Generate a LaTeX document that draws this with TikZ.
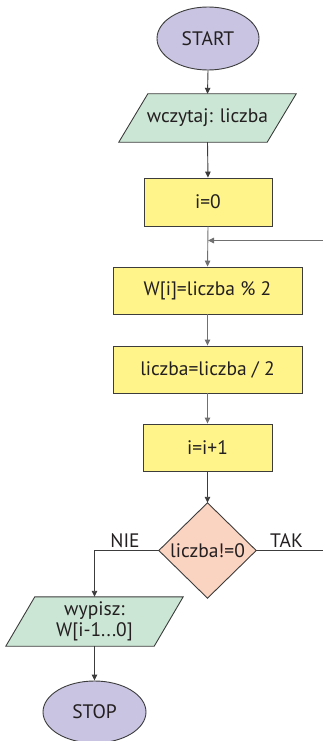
\documentclass[tikz,border=0pt]{standalone}
\usepackage{fontspec}
\setmainfont{PT Sans}
\usetikzlibrary{shapes.geometric,arrows.meta,calc,backgrounds}
\definecolor{lav}{HTML}{C8C4E1}
\definecolor{mint}{HTML}{CCE6D5}
\definecolor{yel}{HTML}{FFF48A}
\definecolor{salm}{HTML}{FBD3C1}
\definecolor{bord}{HTML}{3C3C3C}
\definecolor{txt}{HTML}{231F20}
\definecolor{lgray}{HTML}{707070}
\tikzset{
  every node/.style={text=txt, font=\fontsize{19.5}{22}\selectfont},
  term/.style={ellipse, draw=bord, fill=lav, line width=0.9pt, inner sep=0pt},
  proc/.style={rectangle, draw=bord, fill=yel, line width=0.9pt, inner sep=0pt},
  iobox/.style={rectangle, inner sep=0pt},
  iofill/.style={draw=bord, fill=mint, line width=0.9pt, line join=miter},
  conn/.style={draw=bord, line width=0.9pt, -{Triangle[length=6pt,width=5.5pt]}},
  connl/.style={draw=lgray, line width=0.9pt, -{Triangle[length=6pt,width=5.5pt]}},
  line/.style={draw=bord, line width=0.9pt},
  lbl/.style={font=\fontsize{19.5}{22}\selectfont}
}
\begin{document}
\begin{tikzpicture}[x=1pt,y=-1pt]
\useasboundingbox (0,0) rectangle (323,741);
\node[term, minimum width=102pt, minimum height=63pt] (start) at (208,38.5) {START};
\node[iobox, minimum width=148pt, minimum height=48pt] (read) at (207.5,118) {wczytaj: liczba};
\node[proc, minimum width=128pt, minimum height=48pt] (init) at (208,202) {i=0};
\node[proc, minimum width=189pt, minimum height=47pt] (mod) at (207.5,290.5) {W[i]=liczba \% 2};
\node[proc, minimum width=189pt, minimum height=47pt] (div) at (207.5,369.5) {liczba=liczba / 2};
\node[proc, minimum width=129pt, minimum height=47pt] (inc) at (207.5,447.5) {i=i+1};
\node[rectangle, inner sep=0pt, minimum width=97pt, minimum height=95pt] (cond) at (207.5,550.5) {liczba!=0};
\node[iobox, minimum width=148pt, minimum height=49pt, align=center, font=\fontsize{19.5}{21}\selectfont] (out) at (94.5,621.5) {wypisz:\\W[i-1...0]};
\node[term, minimum width=103pt, minimum height=62pt] (stop) at (94.5,712) {STOP};
\begin{scope}[on background layer]
\path[iofill] ($(read.south west)+(-14.5,0)$) -- ($(read.south east)+(-14.5,0)$) -- ($(read.north east)+(14.5,0)$) -- ($(read.north west)+(14.5,0)$) -- cycle;
\path[iofill] ($(out.south west)+(-14.5,0)$) -- ($(out.south east)+(-14.5,0)$) -- ($(out.north east)+(14.5,0)$) -- ($(out.north west)+(14.5,0)$) -- cycle;
\path[draw=bord, fill=salm, line width=0.9pt] (cond.north) -- (cond.east) -- (cond.south) -- (cond.west) -- cycle;
\end{scope}
\coordinate (loopR) at (323,240.5);
\coordinate (takR) at (323,550.5);
\path[conn] (start.south) -- (read.north);
\path[conn] (read.south) -- (init.north);
\path[connl] (init.south) -- (mod.north);
\path[connl] (mod.south) -- (div.north);
\path[connl] (div.south) -- (inc.north);
\path[conn] (inc.south) -- (cond.north);
\path[connl] (loopR) -- (loopR -| init.south);
\path[line] (cond.east) -- (takR);
\path[conn] (cond.west) -| (out.north);
\path[conn] (out.south) -- (stop.north);
\node[lbl, anchor=base] (tak) at (286.5,547) {TAK};
\node[lbl, anchor=base] (nie) at (125,547) {NIE};
\end{tikzpicture}
\end{document}
